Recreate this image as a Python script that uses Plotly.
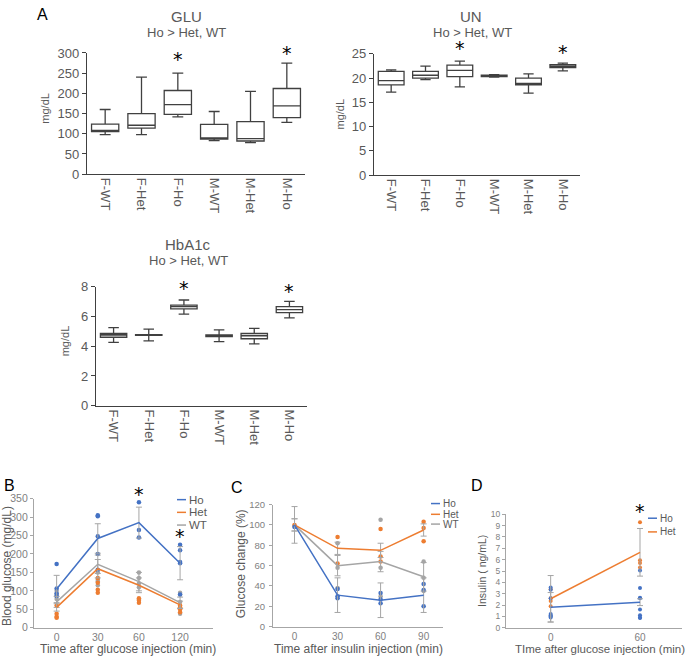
import plotly.graph_objects as go

W, H = 685, 666
def fx(px): return px / W
def fy(py): return 1 - py / H

FONT = "Liberation Sans, Arial, sans-serif"
TXT = "#595959"
TICK2 = "#7f7f7f"
C_HO, C_HET, C_WT = "#4472C4", "#ED7D31", "#A5A5A5"

# ---------------- Panel A data (box stats) ----------------
groups = ["F-WT", "F-Het", "F-Ho", "M-WT", "M-Het", "M-Ho"]

glu_low = [98, 98, 142, 83, 78, 128]
glu_q1 = [105, 114, 148, 87, 82, 140]
glu_med = [108, 121, 172, 90, 88, 169]
glu_q3 = [124, 150, 207, 123, 130, 212]
glu_high = [160, 240, 250, 155, 205, 275]
glu_star = [None, None, 284, None, None, 300]

un_low = [17.1, 19.7, 18.2, 20.2, 16.9, 21.5]
un_q1 = [18.6, 20.0, 20.3, 20.3, 18.6, 22.2]
un_med = [19.5, 20.6, 21.6, 20.4, 18.9, 22.5]
un_q3 = [21.4, 21.4, 22.7, 20.6, 20.0, 22.8]
un_high = [21.7, 22.5, 23.5, 20.7, 20.9, 23.1]
un_star = [None, None, 26.1, None, None, 25.4]

hb_low = [4.25, 4.35, 6.15, 4.3, 4.15, 5.9]
hb_q1 = [4.6, 4.72, 6.5, 4.65, 4.5, 6.25]
hb_med = [4.75, 4.75, 6.65, 4.7, 4.7, 6.45]
hb_q3 = [4.85, 4.78, 6.75, 4.75, 4.85, 6.65]
hb_high = [5.25, 5.15, 7.1, 5.1, 5.2, 7.0]
hb_star = [None, None, 7.9, None, None, 7.7]

# ---------------- Panel B (GTT) ----------------
b_times = ["0", "30", "60", "120"]
b_ho_mean = [105, 242, 285, 175]
b_ho_sd = [37, 40, 42, 45]
b_het_mean = [55, 160, 115, 62]
b_het_sd = [10, 25, 20, 10]
b_wt_mean = [70, 172, 125, 68]
b_wt_sd = [15, 25, 25, 15]
b_ho_pts = [[173, 106, 93, 86], [305, 302, 248, 200, 157], [340, 265, 245], [225, 210, 178, 175, 90]]
b_het_pts = [[60, 38, 30, 27], [135, 122, 103, 95], [80, 75, 68], [60, 55, 50, 42]]
b_wt_pts = [[100, 92, 85, 78], [150, 130, 125, 115], [150, 135, 120, 110, 75], [95, 90, 70, 38]]
b_star = [None, None, 362, 248]

# ---------------- Panel C (ITT) ----------------
c_times = ["0", "30", "60", "90"]
c_ho_mean = [100, 31, 26, 31]
c_ho_sd = [18, 17, 17, 17]
c_het_mean = [100, 77, 75, 95]
c_het_sd = [6, 6, 7, 6]
c_wt_mean = [100, 60, 64, 49]
c_wt_sd = [6, 10, 10, 14]
c_ho_pts = [[98], [37, 30, 28], [33, 27, 23], [42, 36, 20]]
c_het_pts = [[100], [88, 62], [96, 69, 64], [103, 97, 84]]
c_wt_pts = [[99], [82, 58, 38], [105, 58, 30], [64, 48, 35]]

# ---------------- Panel D (insulin) ----------------
d_times = ["0", "60"]
d_ho_mean = [1.8, 2.25]
d_ho_sd = [1.3, 0.3]
d_het_mean = [2.55, 6.65]
d_het_sd = [2.05, 2.1]
d_ho_pts = [[3.55, 3.35, 2.6, 1.2, 1.1, 1.0, 0.9], [5.05, 3.5, 2.65, 2.6, 1.6, 1.1, 0.9, 0.85]]
d_het_pts = [[3.4, 2.6, 2.35, 1.9], [9.3, 5.95, 5.7, 5.3]]
d_star = [None, 10.3]

# ---- panel geometry (pixels in the 685x666 page) ----
# (x_left, x_right, y_top, y_bottom, y_range, dtick)
GEOM = {
    "1": (87, 305, 47, 171, [0, 300], 50),
    "2": (374, 580, 48, 172, [0, 25], 5),
    "3": (96, 307, 286, 408, [0, 8], 2),
    "4": (34, 213, 503, 635, [0, 350], 50),
    "5": (273, 443, 509, 634, [0, 120], 20),
    "6": (506, 682, 519, 635, [0, 10], 1),
}

fig = go.Figure()
annotations = []
shapes = []

STAR_FONT = dict(size=19, color="black", family="DejaVu Sans, sans-serif")

def stars(k, cats, vals):
    x0, x1, yt, yb, rng, _ = GEOM[k]
    ppu = (yb - yt) / (rng[1] - rng[0])
    sfx = "" if k == "1" else k
    for i, (c, v) in enumerate(zip(cats, vals)):
        if v is None:
            continue
        yv = min(v, rng[1])
        annotations.append(dict(x=i, y=yv, xref="x" + sfx, yref="y" + sfx, text="*", showarrow=False,
                                yshift=(v - yv) * ppu,
                                font=STAR_FONT, xanchor="center", yanchor="middle"))

# ---- Box panels ----
box_sets = [
    ("1", glu_low, glu_q1, glu_med, glu_q3, glu_high, glu_star),
    ("2", un_low, un_q1, un_med, un_q3, un_high, un_star),
    ("3", hb_low, hb_q1, hb_med, hb_q3, hb_high, hb_star),
]
for k, lo, q1, md, q3, hi, st in box_sets:
    sfx = "" if k == "1" else k
    fig.add_trace(go.Box(
        x=groups, lowerfence=lo, q1=q1, median=md, q3=q3, upperfence=hi,
        xaxis="x" + sfx, yaxis="y" + sfx, fillcolor="white",
        line=dict(color="#404040", width=1.3), whiskerwidth=0.4, width=0.75,
        boxpoints=False, showlegend=False, hoverinfo="skip"))
    stars(k, groups, st)


def expand(times, pts):
    xs, ys = [], []
    for t, p in zip(times, pts):
        xs += [t] * len(p)
        ys += p
    return xs, ys


def line_panel(k, times, series, msize=4.5):
    xa, ya = "x" + k, "y" + k
    for name, mean, sd, pts, col in series:
        xs, ys = expand(times, pts)
        fig.add_trace(go.Scatter(x=xs, y=ys, mode="markers", marker=dict(color=col, size=msize),
                                 xaxis=xa, yaxis=ya, showlegend=False, hoverinfo="skip"))
    for name, mean, sd, pts, col in series:
        fig.add_trace(go.Scatter(x=times, y=mean, mode="lines", name=name,
                                 line=dict(color=col, width=1.5),
                                 error_y=dict(type="data", array=sd, color="#A5A5A5", thickness=1, width=3),
                                 xaxis=xa, yaxis=ya, showlegend=False, hoverinfo="skip"))


line_panel("4", b_times, [
    ("WT", b_wt_mean, b_wt_sd, b_wt_pts, C_WT),
    ("Het", b_het_mean, b_het_sd, b_het_pts, C_HET),
    ("Ho", b_ho_mean, b_ho_sd, b_ho_pts, C_HO),
])
line_panel("5", c_times, [
    ("WT", c_wt_mean, c_wt_sd, c_wt_pts, C_WT),
    ("Het", c_het_mean, c_het_sd, c_het_pts, C_HET),
    ("Ho", c_ho_mean, c_ho_sd, c_ho_pts, C_HO),
])
line_panel("6", d_times, [
    ("Het", d_het_mean, d_het_sd, d_het_pts, C_HET),
    ("Ho", d_ho_mean, d_ho_sd, d_ho_pts, C_HO),
], msize=4)

stars("4", b_times, b_star)
stars("6", d_times, d_star)

# ---- axes ----
def xax(k, rng, tickangle=0, size=13, linecol="#404040", color=TXT):
    x0, x1, yt, yb, _, _ = GEOM[k]
    anchor = "y" if k == "1" else "y" + k
    return dict(domain=[fx(x0), fx(x1)], anchor=anchor, type="category", range=rng,
                showline=True, linecolor=linecol, linewidth=1.2, showgrid=False, zeroline=False,
                ticks="", tickangle=tickangle,
                tickfont=dict(size=size, color=color, family=FONT), fixedrange=True)

def yax(k, size=13, linecol="#404040", color=TXT, ticklen=4, standoff=0):
    x0, x1, yt, yb, rng, dt = GEOM[k]
    anchor = "x" if k == "1" else "x" + k
    return dict(domain=[fy(yb), fy(yt)], anchor=anchor, range=rng, dtick=dt,
                showline=True, linecolor=linecol, linewidth=1.2, showgrid=False, zeroline=False,
                ticks="outside", ticklen=ticklen, tickcolor=linecol, ticklabelstandoff=standoff,
                tickfont=dict(size=size, color=color, family=FONT), fixedrange=True)

LC = "#a6a6a6"
fig.update_layout(
    xaxis=xax("1", [-0.5, 5.5], tickangle=90),
    yaxis=yax("1"),
    xaxis2=xax("2", [-0.5, 5.5], tickangle=90),
    yaxis2=yax("2"),
    xaxis3=xax("3", [-0.5, 5.5], tickangle=90),
    yaxis3=yax("3"),
    xaxis4=xax("4", [-0.55, 3.8], size=10.5, linecol=LC, color=TICK2),
    yaxis4=yax("4", size=10.5, linecol=LC, color=TICK2, ticklen=3),
    xaxis5=xax("5", [-0.5, 3.45], size=10, linecol=LC, color=TICK2),
    yaxis5=yax("5", size=9.5, linecol=LC, color=TICK2, ticklen=3, standoff=2),
    xaxis6=xax("6", [-0.5, 1.47], size=10, linecol=LC, color=TICK2),
    yaxis6=yax("6", size=8.5, linecol=LC, color=TICK2, ticklen=3),
)


def txt(x, y, s, size, color=TXT, angle=0, xanchor="center"):
    annotations.append(dict(x=fx(x), y=fy(y), xref="paper", yref="paper", text=s, showarrow=False,
                            font=dict(size=size, color=color, family=FONT), textangle=angle,
                            xanchor=xanchor, yanchor="middle"))

# panel letters
txt(42, 8, "A", 16, "black")
txt(9, 490, "B", 16, "black")
txt(237, 492, "C", 16, "black")
txt(477, 490, "D", 16, "black")

# panel A titles
txt(187, 10, "GLU", 15)
txt(187, 26, "Ho &gt; Het, WT", 13)
txt(471, 10, "UN", 15)
txt(472, 26, "Ho &gt; Het, WT", 13)
txt(188, 243, "HbA1c", 15)
txt(188, 259, "Ho &gt; Het, WT", 13)
txt(45, 104, "mg/dL", 11, angle=-90)
txt(340, 110, "mg/dL", 11, angle=-90)
txt(65, 342, "mg/dL", 11, angle=-90)

# B-D axis titles
txt(128, 657, "Time after glucose injection (min)", 12)
txt(7, 572, "Blood glucose (mg/dL)", 12, angle=-90)
txt(358, 657, "Time after insulin injection (min)", 12)
txt(241, 570, "Glucose change (%)", 12, angle=-90)
txt(600, 657, "TIme after glucose injection (min)", 11.5)
txt(482, 577, "Insulin ( ng/mL)", 10.5, angle=-90)

# manual legends
def legend(x0, ys, names, cols, size):
    for y, n, c in zip(ys, names, cols):
        shapes.append(dict(type="line", xref="paper", yref="paper", x0=fx(x0), x1=fx(x0 + 9),
                           y0=fy(y), y1=fy(y), line=dict(color=c, width=1.5)))
        txt(x0 + 10, y, n, size, xanchor="left")

legend(177, [504, 517, 530], ["Ho", "Het", "WT"], [C_HO, C_HET, C_WT], 11.5)
legend(431, [508, 519, 529], ["Ho", "Het", "WT"], [C_HO, C_HET, C_WT], 10)
legend(648, [523, 537], ["Ho", "Het"], [C_HO, C_HET], 10)

fig.update_layout(
    width=W, height=H, margin=dict(l=0, r=0, t=0, b=0),
    paper_bgcolor="white", plot_bgcolor="white",
    annotations=annotations, shapes=shapes, showlegend=False,
    font=dict(family=FONT, color=TXT),
)

fig.write_html("out.html", config={"displayModeBar": False},
               post_script="document.body.style.margin='0';document.body.style.overflow='hidden';")
